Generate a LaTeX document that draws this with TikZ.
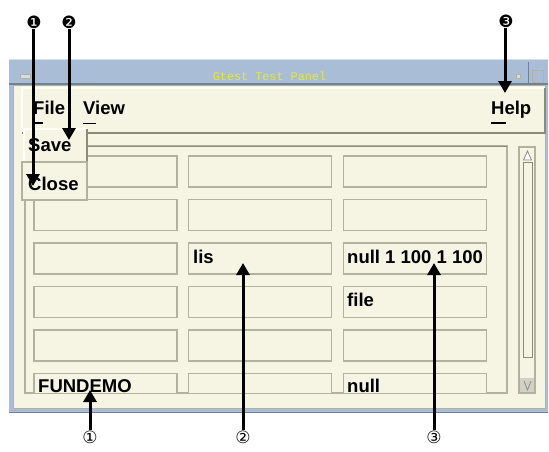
\documentclass[tikz,border=0pt]{standalone}
\usepackage{fontspec}
\setmainfont{Liberation Sans}
\newfontfamily\symfont{DejaVu Sans}
\newfontfamily\titlefont{Liberation Mono}
\usetikzlibrary{arrows.meta}
\definecolor{panelbg}{HTML}{F6F4E2}
\definecolor{edge}{HTML}{B3B29E}
\definecolor{darkedge}{HTML}{8C8B79}
\definecolor{lightedge}{HTML}{FFFFF6}
\definecolor{titleblue}{HTML}{A9BED6}
\definecolor{titledark}{HTML}{6F8298}
\definecolor{titlelight}{HTML}{D3DEEA}
\definecolor{titletext}{HTML}{E8E832}
\tikzset{
  cell/.style={draw=edge, line width=1.6pt, fill=panelbg, minimum width=143pt, minimum height=31pt, inner sep=0pt},
  celltext/.style={anchor=base west, inner sep=0pt, font=\bfseries\fontsize{18.5}{20}\selectfont},
  menutext/.style={anchor=base west, inner sep=0pt, font=\bfseries\fontsize{18.5}{20}\selectfont},
  callout/.style={inner sep=0pt, font=\symfont\fontsize{17}{18}\selectfont},
  pointer/.style={line width=3pt, -{Triangle[width=13pt,length=12pt]}},
  uline/.style={line width=1.3pt, black},
}
\begin{document}
\begin{tikzpicture}[x=1pt,y=-1pt]
\useasboundingbox (0,0) rectangle (549,451);
\fill[white] (0,0) rectangle (549,451);
% window frame
\fill[titleblue] (9,59) rectangle (548,413);
\draw[titlelight, line width=1pt] (9,59.5) -- (548,59.5);
\draw[titledark, line width=1.5pt] (9,84) -- (548,84);
\draw[titledark, line width=1pt] (9,412.5) -- (548,412.5);
\fill[panelbg] (13,85) rectangle (545,408);
\draw[edge, line width=1pt] (13,85) rectangle (545,408);
% title bar decorations
\draw[edge, fill=titlelight, line width=0.8pt] (20,74.5) rectangle (30,78);
\draw[titledark, line width=0.6pt] (34,62) -- (34,83);
\draw[edge, fill=titlelight, line width=0.8pt] (516,74) rectangle (520,78);
\draw[titledark, line width=0.6pt] (528,62) -- (528,83);
\draw[edge, line width=1pt] (532,70) rectangle (543,82);
\node[inner sep=0pt, text=titletext, font=\titlefont\fontsize{11.8}{12}\selectfont] (title) at (269.5,76.5) {Gtest Test Panel};
% menu bar
\fill[panelbg] (22,88) rectangle (545,133);
\draw[lightedge, line width=1.5pt] (22,133) -- (22,88) -- (545,88);
\draw[darkedge, line width=2pt] (22,133) -- (545,133) -- (545,88);
\node[menutext] (file) at (33,114) {File};
\node[menutext] (view) at (83,114) {View};
\node[menutext] (help) at (491,114) {Help};
\draw[uline] (33,123) -- (43,123);
\draw[uline] (83,123.5) -- (96,123.5);
\draw[uline] (491,123) -- (506,123);
% content panel
\draw[edge, line width=1.8pt] (25,146) rectangle (507,393);
\draw[darkedge, line width=1pt] (25,146) -- (507,146);
% scrollbar
\draw[edge, line width=1.8pt] (519,147) rectangle (535,393);
\draw[darkedge, line width=0.8pt] (523,162) rectangle (532,357);
\fill[edge!60] (520,378) rectangle (534,392);
\draw[darkedge, fill=white, line width=0.8pt] (527.5,151) -- (523.5,160) -- (531.5,160) -- cycle;
\draw[edge!80!black, line width=0.8pt] (524,381) -- (527.5,390) -- (531,381);
% cells
\begin{scope}
\clip (26,147) rectangle (506,392);
\foreach \r/\y in {1/171.5, 2/215, 3/258.5, 4/302, 5/345.5, 6/389} {
  \node[cell] (a\r) at (105.5,\y) {};
  \node[cell] (b\r) at (260,\y) {};
  \node[cell] (c\r) at (415,\y) {};
}
\end{scope}
\node[celltext] (lis) at (193,263) {lis};
\node[celltext] (nums) at (347,263) {null 1 100 1 100};
\node[celltext] (filet) at (347,306) {file};
\node[celltext] (fundemo) at (38,392) {FUNDEMO};
\node[celltext] (nullt) at (347,392) {null};
% popup menu
\fill[panelbg] (24,129) rectangle (87,162);
\draw[lightedge, line width=1.2pt] (24,162) -- (24,129) -- (87,129);
\draw[darkedge, line width=2pt] (24,162) -- (87,162) -- (87,129);
\fill[panelbg] (22,162) rectangle (87,200);
\draw[edge, line width=1.5pt] (22,162) rectangle (87,200);
\node[menutext] (save) at (28,151) {Save};
\node[menutext] (close) at (28,190) {Close};
% callouts
\node[callout] (n1) at (34,22) {❶};
\node[callout] (n2) at (69,22) {❷};
\node[callout] (n3) at (506,21) {❸};
\node[callout] (m1) at (90,437) {①};
\node[callout] (m2) at (243,437) {②};
\node[callout] (m3) at (434,437) {③};
\coordinate (t1) at (33,186);
\coordinate (t2) at (69,140);
\coordinate (t3) at (505,93);
\coordinate (u1) at (90,390);
\coordinate (u2) at (243,263);
\coordinate (u3) at (434,263);
\draw[pointer] (n1.south -| t1) -- (t1);
\draw[pointer] (n2.south -| t2) -- (t2);
\draw[pointer] (n3.south -| t3) -- (t3);
\draw[pointer] (m1.north) -- (u1);
\draw[pointer] (m2.north) -- (u2);
\draw[pointer] (m3.north) -- (u3);
\end{tikzpicture}
\end{document}
